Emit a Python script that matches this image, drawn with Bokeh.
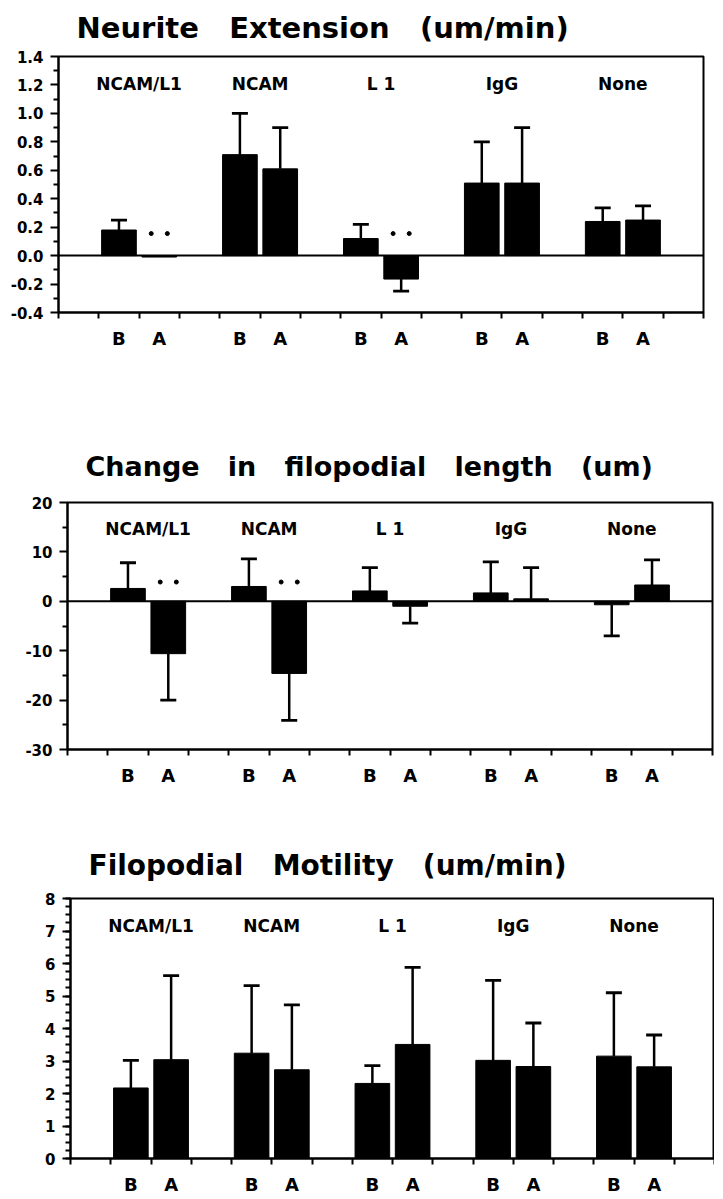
from bokeh.plotting import figure
from bokeh.models import FixedTicker, Range1d, Span, ColumnDataSource, Spacer
from bokeh.layouts import column, row
from bokeh.embed import file_html
from bokeh.resources import INLINE
from bokeh.core.properties import value

FONT = "DejaVu Sans"
GAP = " \u00a0 "

# ---------------- data ----------------
groups = ["NCAM/L1", "NCAM", "L 1", "IgG", "None"]
conditions = ["B", "A"]

# Panel 1: Neurite Extension (um/min)
ext_before = [0.18, 0.71, 0.12, 0.51, 0.24]
ext_after = [-0.01, 0.61, -0.165, 0.51, 0.25]
ext_before_err = [0.07, 0.29, 0.10, 0.29, 0.095]
ext_after_err = [0.0, 0.29, 0.085, 0.39, 0.10]
ext_after_sig = [True, False, True, False, False]
ext_ticks = [-0.4, -0.2, 0.0, 0.2, 0.4, 0.6, 0.8, 1.0, 1.2, 1.4]
ext_tick_labels = ["-0.4", "-0.2", "0.0", "0.2", "0.4", "0.6", "0.8", "1.0", "1.2", "1.4"]
ext_minor = [-0.3, -0.1, 0.1, 0.3, 0.5, 0.7, 0.9, 1.1, 1.3]

# Panel 2: Change in filopodial length (um)
len_before = [2.6, 3.0, 2.1, 1.7, -0.7]
len_after = [-10.6, -14.6, -1.0, 0.5, 3.3]
len_before_err = [5.2, 5.6, 4.7, 6.3, 6.3]
len_after_err = [9.4, 9.5, 3.4, 6.3, 5.1]
len_after_sig = [True, True, False, False, False]
len_ticks = [-30, -20, -10, 0, 10, 20]
len_tick_labels = ["-30", "-20", "-10", "0", "10", "20"]
len_minor = [-25, -15, -5, 5, 15]

# Panel 3: Filopodial Motility (um/min)
mot_before = [2.17, 3.24, 2.31, 3.02, 3.15]
mot_after = [3.04, 2.73, 3.51, 2.83, 2.82]
mot_before_err = [0.85, 2.08, 0.55, 2.46, 1.95]
mot_after_err = [2.59, 2.00, 2.37, 1.34, 0.98]
mot_after_sig = [False, False, False, False, False]
mot_ticks = [0, 1, 2, 3, 4, 5, 6, 7, 8]
mot_tick_labels = ["0", "1", "2", "3", "4", "5", "6", "7", "8"]
mot_minor = [i / 4 for i in range(33)]


def panel(title, title_size, before, after, before_err, after_err, after_sig,
          ticks, tick_labels, minor, y0, y1, label_y, sig_y,
          frame_w, frame_h, left, top, bottom, right, title_standoff, ba_standoff,
          zero_line, title_valign="bottom"):
    p = figure(frame_width=frame_w, frame_height=frame_h,
               x_range=Range1d(0, 16), y_range=Range1d(y0, y1),
               output_backend="svg", toolbar_location=None,
               min_border_left=left, min_border_top=top,
               min_border_bottom=bottom, min_border_right=right,
               background_fill_color="white", border_fill_color="white")
    p.xgrid.visible = False
    p.ygrid.visible = False
    p.outline_line_color = "black"
    p.outline_line_width = 2
    p.outline_line_alpha = 1

    p.title.text = title
    p.title.text_font = FONT
    p.title.text_font_style = "bold"
    p.title.text_font_size = title_size
    p.title.text_color = "black"
    p.title.align = "left"
    p.title.vertical_align = title_valign
    p.title.offset = 18
    p.title.standoff = title_standoff

    n = len(groups)
    xb = [3 * i + 1.5 for i in range(n)]
    xa = [3 * i + 2.5 for i in range(n)]
    xs = xb + xa
    vals = list(before) + list(after)
    errs = list(before_err) + list(after_err)

    src = ColumnDataSource(dict(x=xs, top=vals))
    p.vbar(x="x", top="top", bottom=0, width=0.86, fill_color="black",
           line_color="black", source=src)

    ex, ey0, ey1 = [], [], []
    for x, v, e in zip(xs, vals, errs):
        if e > 0:
            s = 1 if v >= 0 else -1
            ex.append(x)
            ey0.append(v)
            ey1.append(v + s * e)
    p.segment(x0=ex, y0=ey0, x1=ex, y1=ey1, line_color="black", line_width=2.5)
    p.scatter(x=ex, y=ey1, marker="dash", size=16, line_color="black", line_width=2.8)

    if zero_line:
        p.add_layout(Span(location=0, dimension="width", line_color="black", line_width=2))

    p.text(x=[3 * i + 2 for i in range(n)], y=[label_y] * n, text=groups,
           text_align="center", text_baseline="alphabetic",
           text_font=value(FONT), text_font_style="bold", text_font_size="17px",
           text_color="black")

    sx, sy = [], []
    for x, s in zip(xa, after_sig):
        if s:
            sx += [x - 0.2, x + 0.2]
            sy += [sig_y, sig_y]
    if sx:
        p.scatter(x=sx, y=sy, marker="circle", size=4, color="black")

    xt = sorted(xs)
    p.xaxis.ticker = FixedTicker(ticks=xt, minor_ticks=list(range(17)))
    p.xaxis.major_label_overrides = {x: (conditions[0] if x in xb else conditions[1]) for x in xt}
    p.xaxis.major_tick_line_color = None
    p.xaxis.major_tick_out = 0
    p.xaxis.major_tick_in = 0
    p.xaxis.minor_tick_out = 6
    p.xaxis.minor_tick_in = 0
    p.xaxis.minor_tick_line_width = 2
    p.xaxis.axis_line_width = 2
    p.xaxis.major_label_standoff = ba_standoff
    p.xaxis.major_label_text_font = FONT
    p.xaxis.major_label_text_font_style = "bold"
    p.xaxis.major_label_text_font_size = "18px"
    p.xaxis.major_label_text_color = "black"

    p.yaxis.ticker = FixedTicker(ticks=ticks, minor_ticks=minor)
    p.yaxis.major_label_overrides = dict(zip(ticks, tick_labels))
    p.yaxis.major_tick_out = 8
    p.yaxis.major_tick_in = 0
    p.yaxis.minor_tick_out = 5
    p.yaxis.minor_tick_in = 0
    p.yaxis.major_tick_line_width = 2
    p.yaxis.minor_tick_line_width = 2
    p.yaxis.axis_line_width = 2
    p.yaxis.major_label_standoff = 7
    p.yaxis.major_label_text_font = FONT
    p.yaxis.major_label_text_font_style = "bold"
    p.yaxis.major_label_text_font_size = "15px"
    p.yaxis.major_label_text_color = "black"
    return p


p1 = panel("Neurite" + GAP + "Extension" + GAP + "(um/min)", "29px",
           ext_before, ext_after, ext_before_err, ext_after_err, ext_after_sig,
           ext_ticks, ext_tick_labels, ext_minor, -0.4, 1.4, 1.21, 0.155,
           645, 256, 50, 54, 83, 4, 20, 9, True, "top")
p2 = panel("Change" + GAP + "in" + GAP + "filopodial" + GAP + "length" + GAP + "(um)", "27px",
           len_before, len_after, len_before_err, len_after_err, len_after_sig,
           len_ticks, len_tick_labels, len_minor, -30, 20, 14.7, 3.9,
           645, 247, 50, 107, 41, 2, 42, 9, True)
p3 = panel("Filopodial" + GAP + "Motility" + GAP + "(um/min)", "28px",
           mot_before, mot_after, mot_before_err, mot_after_err, mot_after_sig,
           mot_ticks, mot_tick_labels, mot_minor, 0, 8, 7.14, 7.0,
           644, 260, 50, 108, 33, 0, 33, 9, False)

layout = column(row(Spacer(width=7, height=10), p1),
                row(Spacer(width=17, height=10), p2),
                row(Spacer(width=20, height=10), p3), spacing=0)
open("out.html", "w").write(file_html(layout, INLINE))
